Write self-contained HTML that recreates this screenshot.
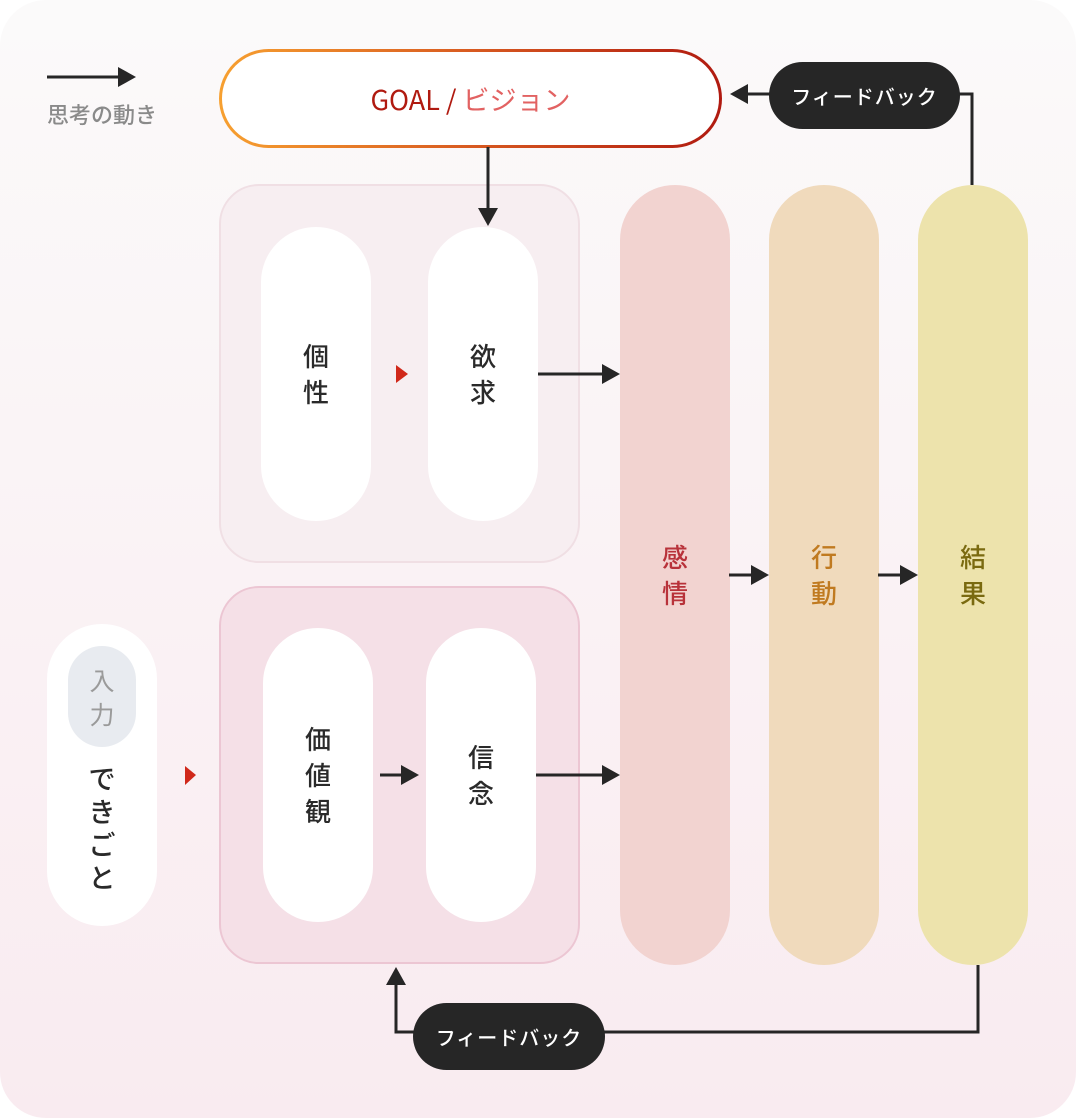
<!DOCTYPE html>
<html><head><meta charset="utf-8"><style>
*{margin:0;padding:0;box-sizing:border-box}
body{width:1076px;height:1118px;background:#fff;position:relative;overflow:hidden;font-family:"Noto Sans CJK JP","Liberation Sans",sans-serif}
.card{position:absolute;left:0;top:0;width:1076px;height:1118px;border-radius:46px;background:linear-gradient(#fbfafa,#f9ebf0)}
.a{position:absolute}
.pill{position:absolute;background:#fff;border-radius:55px;display:flex;align-items:center;justify-content:center;flex-direction:column;font-size:26px;font-weight:500;color:#2a2a2a;line-height:36px;text-align:center}
.grp{position:absolute;border-radius:40px}
.col{position:absolute;top:185px;width:110px;height:780px;border-radius:55px;display:flex;align-items:center;justify-content:center;flex-direction:column;font-size:26px;font-weight:500;line-height:36px}
.fb{position:absolute;background:#262626;color:#fff;border-radius:34px;display:flex;align-items:center;justify-content:center;font-size:20px;font-weight:500;letter-spacing:1px}
</style></head><body>
<div class="card"></div>
<div class="a" style="left:47px;top:98px;font-size:22px;font-weight:500;color:#8a8a8a">思考の動き</div>
<div class="a" style="left:219px;top:49px;width:503px;height:99px;border-radius:50px;background:linear-gradient(90deg,#f7a030,#d85a20 50%,#b01a10)"></div>
<div class="a" style="left:222px;top:52px;width:497px;height:93px;border-radius:47px;background:#fff;display:flex;align-items:center;justify-content:center;font-size:27px;font-weight:400;color:#b01a10">GOAL /&nbsp;<span style="color:#e26262">ビジョン</span></div>

<div class="grp" style="left:219px;top:184px;width:361px;height:379px;background:#f7eef1;border:2px solid #f0dfe4"></div>
<div class="grp" style="left:219px;top:586px;width:361px;height:378px;background:#f5e0e7;border:2px solid #ecc6d3"></div>
<div class="pill" style="left:261px;top:227px;width:110px;height:294px">個<br>性</div>
<div class="pill" style="left:428px;top:227px;width:110px;height:294px">欲<br>求</div>
<div class="pill" style="left:263px;top:628px;width:110px;height:294px">価<br>値<br>観</div>
<div class="pill" style="left:426px;top:628px;width:110px;height:294px">信<br>念</div>
<div class="pill" style="left:47px;top:624px;width:110px;height:302px;justify-content:flex-start;padding-top:22px">
<div style="width:68px;height:101px;border-radius:34px;background:#e8ebf0;color:#9a9a9a;font-size:25px;font-weight:400;line-height:34px;display:flex;align-items:center;justify-content:center;flex-direction:column">入<br>力</div>
<div style="margin-top:14px;font-size:27px;line-height:33px">で<br>き<br>ご<br>と</div></div>

<div class="col" style="left:620px;background:#f2d3d0;color:#b8323a">感<br>情</div>
<div class="col" style="left:769px;background:#f0dabc;color:#c07a20">行<br>動</div>
<div class="col" style="left:918px;background:#ede3ac;color:#7a6a10">結<br>果</div>

<svg class="a" style="left:0;top:0" width="1076" height="1118">
<g stroke="#262626" stroke-width="3" fill="none">
<line x1="47" y1="77" x2="120" y2="77"/>
<line x1="488" y1="147" x2="488" y2="210"/>
<line x1="538" y1="374" x2="604" y2="374"/>
<line x1="380" y1="775" x2="403" y2="775"/>
<line x1="536" y1="775" x2="604" y2="775"/>
<line x1="729" y1="575" x2="753" y2="575"/>
<line x1="878" y1="575" x2="902" y2="575"/>
<polyline points="972,185 972,94 745,94"/>
<polyline points="978,965 978,1032 396,1032 396,983"/>
</g>
<g fill="#262626">
<polygon points="118,67 136,77 118,87"/>
<polygon points="478,208 498,208 488,226"/>
<polygon points="602,364 620,374 602,384"/>
<polygon points="401,765 419,775 401,785"/>
<polygon points="602,765 620,775 602,785"/>
<polygon points="751,565 769,575 751,585"/>
<polygon points="900,565 918,575 900,585"/>
<polygon points="748,84 730,94 748,104"/>
<polygon points="386,985 396,967 406,985"/>
</g>
<g fill="#d0281a">
<polygon points="396,365 408,374 396,383"/>
<polygon points="185,766 196,775 185,785"/>
</g>
</svg>
<div class="fb" style="left:769px;top:62px;width:191px;height:67px">フィードバック</div>
<div class="fb" style="left:413px;top:1003px;width:192px;height:67px">フィードバック</div>
</body></html>
